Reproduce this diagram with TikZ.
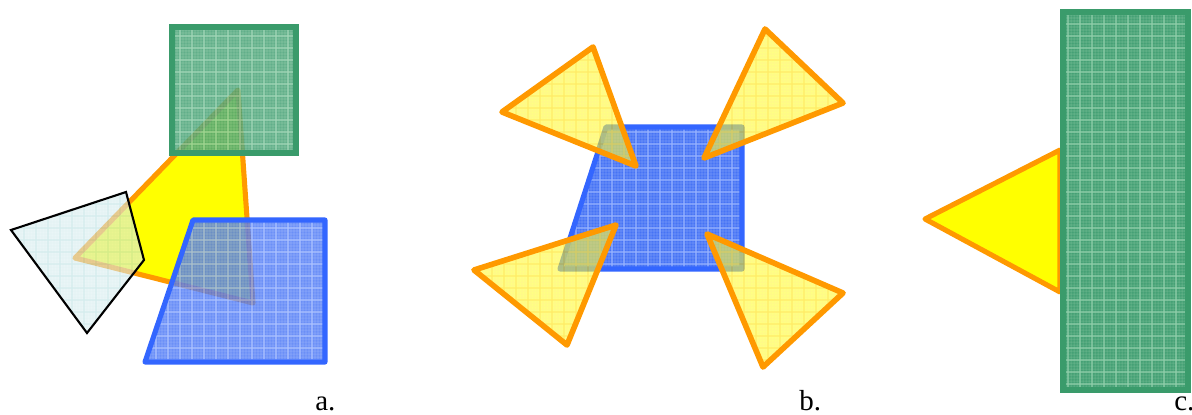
\documentclass[tikz,border=0pt]{standalone}
\usepackage{fontspec}
\setmainfont{Liberation Serif}
\usetikzlibrary{positioning}

\definecolor{rimgreen}{HTML}{3A9B6B}
\definecolor{meshgreen}{HTML}{45A175}
\definecolor{finegreen}{HTML}{6CB78F}
\definecolor{coarsegreen}{HTML}{8ECDA9}
\definecolor{rimblue}{HTML}{3366FF}
\definecolor{meshblue}{HTML}{4673F5}
\definecolor{fineblue}{HTML}{6F93F8}
\definecolor{coarseblue}{HTML}{94B0FF}
\definecolor{triyellow}{HTML}{FFFF00}
\definecolor{triorange}{HTML}{FF9900}
\definecolor{paleyellow}{HTML}{FFFF30}
\definecolor{fineyellow}{HTML}{FFF040}
\definecolor{coarseyellow}{HTML}{FFE000}
\definecolor{paleteal}{HTML}{DCEFF1}
\definecolor{fineteal}{HTML}{D0E9EC}
\definecolor{coarseteal}{HTML}{B9E0E2}

% mesh fill: #1 path, #2 base, #3 fine lines, #4 coarse lines, #5 opacity
\newcommand{\meshfill}[5]{%
  \begin{scope}[transparency group,opacity=#5]
    \clip #1;
    \fill[#2] #1;
    \draw[#3,line width=.3pt] \foreach \gx in {0,3,...,1191} {(\gx,0) -- (\gx,414)}
      \foreach \gy in {0,3,...,414} {(0,\gy) -- (1192,\gy)};
    \draw[#4,line width=.6pt] \foreach \gx in {0,12,...,1191} {(\gx,0) -- (\gx,414)}
      \foreach \gy in {0,12,...,414} {(0,\gy) -- (1192,\gy)};
  \end{scope}}

\begin{document}
\begin{tikzpicture}[
  x=0.02cm,y=-0.02cm,
  edge/.style={line width=2.9pt,draw=triorange,line join=round},
  bluerim/.style={line width=2.9pt,draw=rimblue,line join=round},
  greenrim/.style={line width=2.9pt,draw=rimgreen},
  caption/.style={font=\fontsize{16.5}{18}\selectfont,anchor=base west,inner sep=0pt}
]
\useasboundingbox (0,0) rectangle (1192,414);

% a: yellow triangle under three see-through shapes
\filldraw[edge,fill=triyellow] (238,90) -- (75,258) -- (253,303) -- cycle;
\meshfill{(172,27) rectangle (296,153)}{meshgreen}{finegreen}{coarsegreen}{.85}
\draw[greenrim] (172,27) rectangle (296,153);
\meshfill{(11,230) -- (126,192) -- (144,260) -- (87,333) -- cycle}{paleteal}{fineteal}{coarseteal}{.6}
\draw[line width=1.2pt] (11,230) -- (126,192) -- (144,260) -- (87,333) -- cycle;
\meshfill{(193,220) -- (325,220) -- (325,362) -- (145,362) -- cycle}{meshblue}{fineblue}{coarseblue}{.8}
\draw[bluerim] (193,220) -- (325,220) -- (325,362) -- (145,362) -- cycle;
\node[caption] (capa) at (315,410) {a.};

% b: four see-through triangles over the blue trapezoid
\meshfill{(606,127) -- (742,127) -- (742,269) -- (560,269) -- cycle}{meshblue}{fineblue}{coarseblue}{1}
\draw[bluerim] (606,127) -- (742,127) -- (742,269) -- (560,269) -- cycle;
\meshfill{(593,47) -- (502,112) -- (636,166) -- cycle}{paleyellow}{fineyellow}{coarseyellow}{.6}
\draw[edge,line width=3.2pt] (593,47) -- (502,112) -- (636,166) -- cycle;
\meshfill{(765,29) -- (843,103) -- (704,158) -- cycle}{paleyellow}{fineyellow}{coarseyellow}{.6}
\draw[edge,line width=3.2pt] (765,29) -- (843,103) -- (704,158) -- cycle;
\meshfill{(616,225) -- (474,270) -- (567,345) -- cycle}{paleyellow}{fineyellow}{coarseyellow}{.6}
\draw[edge,line width=3.2pt] (616,225) -- (474,270) -- (567,345) -- cycle;
\meshfill{(707,234) -- (843,293) -- (763,367) -- cycle}{paleyellow}{fineyellow}{coarseyellow}{.6}
\draw[edge,line width=3.2pt] (707,234) -- (843,293) -- (763,367) -- cycle;
\node[caption] (capb) at (799,410) {b.};

% c: solid triangle touching the tall green bar
\filldraw[edge,fill=triyellow] (1060,150) -- (925,219) -- (1060,292) -- cycle;
\meshfill{(1063,12) rectangle (1188,390)}{meshgreen}{finegreen}{coarsegreen}{1}
\draw[greenrim] (1063,12) rectangle (1188,390);
\node[caption] (capc) at (1174,410) {c.};
\end{tikzpicture}
\end{document}
